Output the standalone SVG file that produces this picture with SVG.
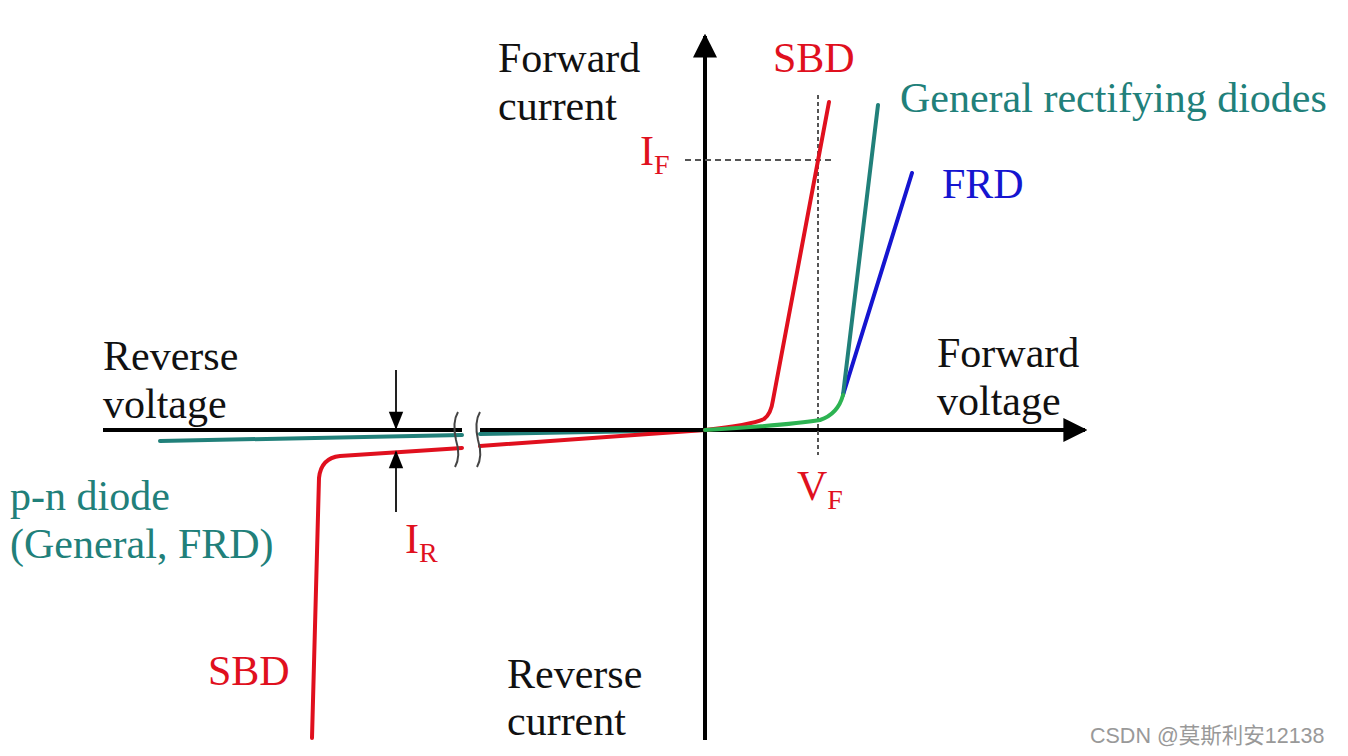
<svg xmlns="http://www.w3.org/2000/svg" width="1348" height="756" viewBox="0 0 1348 756">
<defs>
<style>
.t{font-family:"Liberation Serif","Times New Roman",serif;font-size:42px}
.k{fill:#111}
.r{fill:#e0101e}
.g{fill:#21807a}
.b{fill:#1515d0}
.sub{font-size:28px}
.ax{stroke:#000;stroke-width:4;fill:none}
.cv{fill:none;stroke-width:4;stroke-linecap:round;stroke-linejoin:round}
</style>
<marker id="ah" viewBox="0 0 10 10" refX="9" refY="5" markerWidth="6" markerHeight="6.4" markerUnits="strokeWidth" orient="auto"><path d="M0,0L10,5L0,10z" fill="#000"/></marker>
<marker id="sh" viewBox="0 0 10 10" refX="9" refY="5" markerWidth="10" markerHeight="9" markerUnits="strokeWidth" orient="auto"><path d="M0,1L10,5L0,9z" fill="#000"/></marker>
</defs>
<rect width="1348" height="756" fill="#fff"/>
<g id="connectors">
<path class="cv" stroke="#21807a" d="M160,441 L462,435"/>
<path class="cv" stroke="#21807a" d="M480,434 L705,430"/>
<path class="cv" stroke="#e0101e" d="M312,738 L319,478 Q321,458 340,456 L462,448"/>
<path class="cv" stroke="#e0101e" d="M480,446 L705,430"/>
<path class="ax" d="M103,430 L462,430"/>
<path class="ax" d="M480,430 L1085,430" marker-end="url(#ah)"/>
<path class="ax" d="M705,740 L705,36" marker-end="url(#ah)"/>
<path d="M458,412 Q452,422 456,440 Q461,456 455,467" fill="none" stroke="#444" stroke-width="2"/>
<path d="M480,412 Q474,422 478,440 Q483,456 477,467" fill="none" stroke="#444" stroke-width="2"/>
<path d="M685,160 L835,160" stroke="#555" stroke-width="2" stroke-dasharray="6,4" fill="none"/>
<path d="M818,95 L818,455" stroke="#555" stroke-width="2" stroke-dasharray="4,3" fill="none"/>
<path class="cv" stroke="#e0101e" d="M705,430 Q750,425 764,419 Q771,414 773,400 L829,102"/>
<path class="cv" stroke="#1515d0" d="M843,395 L912,173"/>
<path class="cv" stroke="#21807a" d="M843,395 L878,105"/>
<path class="cv" stroke="#2db352" d="M705,430 Q790,425 820,420 Q838,414 843,395"/>
<path d="M396,370 L396,428" stroke="#222" stroke-width="2" marker-end="url(#sh)"/>
<path d="M396,512 L396,452" stroke="#222" stroke-width="2" marker-end="url(#sh)"/>
</g>
<g id="label-forward-current"><text class="t k" x="498" y="72">Forward</text><text class="t k" x="498" y="120">current</text></g>
<g id="label-sbd-top"><text class="t r" x="773" y="72">SBD</text></g>
<g id="label-general"><text class="t g" x="900" y="112">General rectifying diodes</text></g>
<g id="label-if"><text class="t r" x="640" y="165">I<tspan class="sub" dy="9">F</tspan></text></g>
<g id="label-frd"><text class="t b" x="942" y="198">FRD</text></g>
<g id="label-reverse-voltage"><text class="t k" x="103" y="370">Reverse</text><text class="t k" x="103" y="418">voltage</text></g>
<g id="label-forward-voltage"><text class="t k" x="937" y="367">Forward</text><text class="t k" x="937" y="415">voltage</text></g>
<g id="label-vf"><text class="t r" x="797" y="500">V<tspan class="sub" dy="9">F</tspan></text></g>
<g id="label-pn"><text class="t g" x="10" y="510">p-n diode</text><text class="t g" x="10" y="558">(General, FRD)</text></g>
<g id="label-ir"><text class="t r" x="405" y="553">I<tspan class="sub" dy="9">R</tspan></text></g>
<g id="label-sbd-bottom"><text class="t r" x="208" y="685">SBD</text></g>
<g id="label-reverse-current"><text class="t k" x="507" y="688">Reverse</text><text class="t k" x="507" y="735">current</text></g>
<g id="watermark"><text x="1090" y="743" font-family="'Liberation Sans','Noto Sans CJK SC',sans-serif" font-size="21.5" fill="#999">CSDN @莫斯利安12138</text></g>
</svg>
